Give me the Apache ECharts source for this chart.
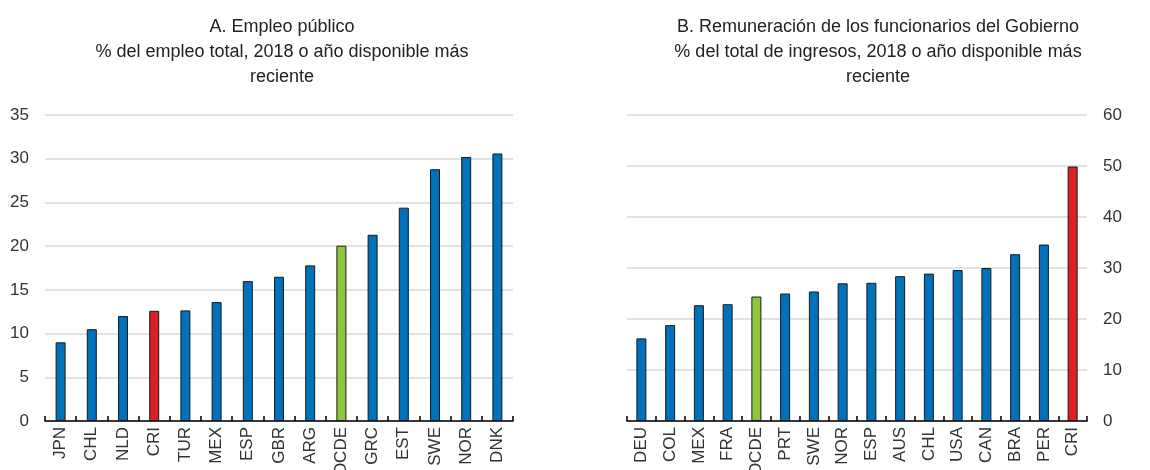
<!DOCTYPE html>
<html><head><meta charset="utf-8">
<script src="https://cdn.jsdelivr.net/npm/echarts@6/dist/echarts.min.js"></script>
<style>html,body{margin:0;padding:0;background:#fff}#c{width:1150px;height:470px}</style>
</head><body><div id="c"></div>
<script>
const catsA = ['JPN','CHL','NLD','CRI','TUR','MEX','ESP','GBR','ARG','OCDE','GRC','EST','SWE','NOR','DNK'];
const valsA = [9.0,10.5,12.0,12.6,12.65,13.6,16.0,16.5,17.8,20.05,21.3,24.4,28.8,30.2,30.6];
const catsB = ['DEU','COL','MEX','FRA','OCDE','PRT','SWE','NOR','ESP','AUS','CHL','USA','CAN','BRA','PER','CRI'];
const valsB = [16.2,18.8,22.7,22.9,24.4,25.0,25.4,27.0,27.1,28.4,28.9,29.6,30.0,32.7,34.6,49.9];
const titleA = 'A. Empleo público\n% del empleo total, 2018 o año disponible más\nreciente';
const titleB = 'B. Remuneración de los funcionarios del Gobierno\n% del total de ingresos, 2018 o año disponible más\nreciente';

const FONT = '"Liberation Sans Narrow","Arial Narrow","Liberation Sans",sans-serif';
const BLUE = '#0071bb', RED = '#da2128', GREEN = '#8dc63f';
function colorFor(c){ return c==='CRI'?RED:(c==='OCDE'?GREEN:BLUE); }
function mk(cats, vals){ return vals.map((v,i)=>({value:v,itemStyle:{color:colorFor(cats[i])}})); }

const chart = echarts.init(document.getElementById('c'));
const xAxisBase = {
  type:'category',
  axisLine:{lineStyle:{color:'#000',width:1.5}},
  axisTick:{show:true,inside:true,length:5,lineStyle:{color:'#000',width:1.5}},
  axisLabel:{rotate:90,fontFamily:FONT,fontSize:17,color:'#333',margin:6,interval:0}
};
const yAxisBase = {
  type:'value', min:0,
  axisLine:{show:false}, axisTick:{show:false},
  splitLine:{lineStyle:{color:'#d9d9d9',width:1.5}},
  axisLabel:{fontFamily:FONT,fontSize:17,color:'#333',margin:16}
};
chart.setOption({
  animation:false,
  title:[
    {text:titleA,left:277,top:10,textAlign:'center',textStyle:{fontFamily:FONT,fontSize:18,fontWeight:'normal',color:'#222',lineHeight:25}},
    {text:titleB,left:873,top:10,textAlign:'center',textStyle:{fontFamily:FONT,fontSize:18,fontWeight:'normal',color:'#222',lineHeight:25}}
  ],
  grid:[
    {left:45,right:637,top:115,bottom:49,containLabel:false,outerBoundsMode:'none'},
    {left:627,right:63,top:115,bottom:49,containLabel:false,outerBoundsMode:'none'}
  ],
  xAxis:[
    Object.assign({gridIndex:0,data:catsA},xAxisBase),
    Object.assign({gridIndex:1,data:catsB},xAxisBase)
  ],
  yAxis:[
    Object.assign({gridIndex:0,max:35,interval:5,position:'left'},yAxisBase),
    Object.assign({gridIndex:1,max:60,interval:10,position:'right'},yAxisBase)
  ],
  series:[
    {type:'bar',xAxisIndex:0,yAxisIndex:0,data:mk(catsA,valsA),barWidth:10,itemStyle:{borderColor:'#1a1a1a',borderWidth:1}},
    {type:'bar',xAxisIndex:1,yAxisIndex:1,data:mk(catsB,valsB),barWidth:10,itemStyle:{borderColor:'#1a1a1a',borderWidth:1}}
  ]
});
</script></body></html>
